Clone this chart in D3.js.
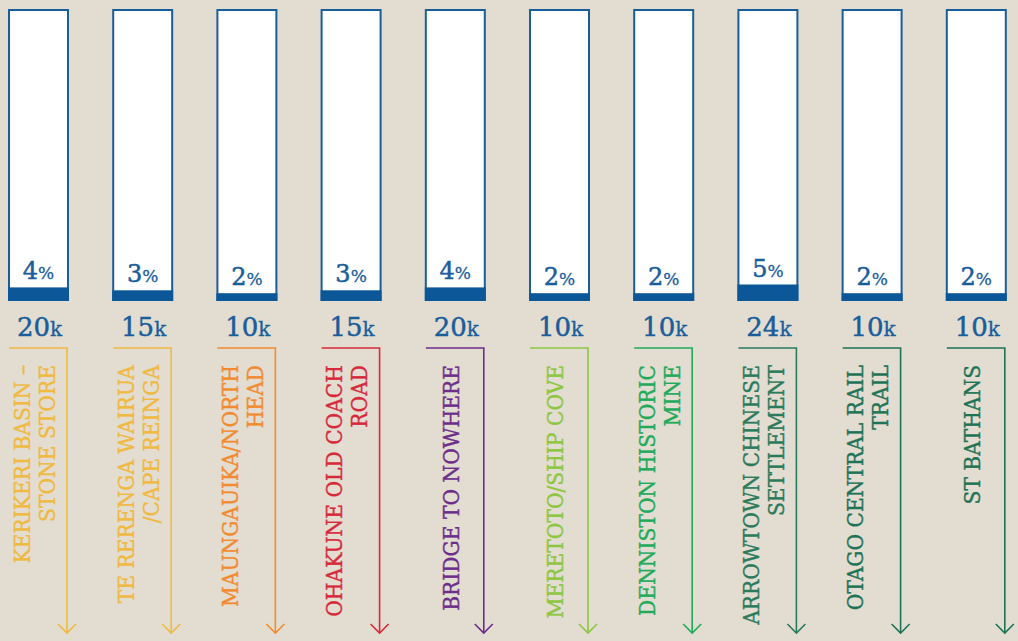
<!DOCTYPE html>
<html><head><meta charset="utf-8">
<script src="https://cdn.jsdelivr.net/npm/d3@7"></script>
<style>
html,body{margin:0;padding:0;background:#e3ddd1;}
svg{display:block;}
.lab{font-family:"DejaVu Serif Condensed","DejaVu Serif",serif;font-stretch:condensed;}
.num{font-family:"DejaVu Serif",serif;}
</style></head>
<body>
<svg id="chart" width="1018" height="641"></svg>
<script>
const categories = ["KERIKERI BASIN –|STONE STORE","TE RERENGA WAIRUA|/CAPE REINGA","MAUNGAUIKA/NORTH|HEAD","OHAKUNE OLD COACH|ROAD","BRIDGE TO NOWHERE","MERETOTO/SHIP COVE","DENNISTON HISTORIC|MINE","ARROWTOWN CHINESE|SETTLEMENT","OTAGO CENTRAL RAIL|TRAIL","ST BATHANS"];
const percents = [4,3,2,3,4,2,2,5,2,2];
const visitors = [20,15,10,15,20,10,10,24,10,10];
const labelColors = ["#f0b940","#f0b940","#f28b30","#d6293b","#6c2d8b","#8dc641","#22aa5b","#2a7a5c","#1e7356","#1e7356"];

const blue = "#195d9b";
const svg = d3.select("#chart");
const x = d3.scaleBand().domain(categories).range([9, 1005.8]).paddingInner(0.434).paddingOuter(0);
const y = d3.scaleLinear().domain([0,100]).range([300,10]);
const bw = x.bandwidth();

const g = svg.selectAll("g.col").data(categories).join("g").attr("class","col")
  .attr("transform", d => `translate(${x(d)},0)`);

// outer box
g.append("rect").attr("x",0).attr("y",y(100)).attr("width",bw).attr("height",y(0)-y(100))
  .attr("fill","#fff").attr("stroke",blue).attr("stroke-width",2);
// fill
g.append("rect").attr("x",0).attr("y",(d,i)=>y(percents[i])).attr("width",bw)
  .attr("height",(d,i)=>y(0)-y(percents[i])).attr("fill","#0b5797").attr("stroke","#0b5797").attr("stroke-width",2);

// percent labels
const pt = g.append("text").attr("class","num").attr("x",bw/2).attr("y",(d,i)=>y(percents[i])-9)
  .attr("text-anchor","middle").attr("fill",blue).attr("stroke",blue).attr("stroke-width",0.5);
pt.append("tspan").attr("font-size",24).text((d,i)=>percents[i]);
pt.append("tspan").attr("font-size",17).attr("stroke-width",0.3).text("%");

// visitor labels
const vt = g.append("text").attr("class","num").attr("x",bw/2+1).attr("y",336)
  .attr("text-anchor","middle").attr("fill",blue).attr("stroke",blue).attr("stroke-width",0.5);
vt.append("tspan").attr("font-size",26).text((d,i)=>visitors[i]);
vt.append("tspan").attr("font-size",20).attr("stroke-width",0.3).text("k");

// arrows
g.append("path").attr("fill","none").attr("stroke",(d,i)=>labelColors[i]).attr("stroke-width",1.6)
  .attr("d",`M0,348H${bw-1}V633`);
g.append("path").attr("fill","none").attr("stroke",(d,i)=>labelColors[i]).attr("stroke-width",1.6)
  .attr("d",`M${bw-10},624L${bw-1},633L${bw+8},624`);

// category labels (rotated)
g.each(function(d,i){
  const lines = d.split("|");
  const cx = 25;
  const lh = 25;
  const sel = d3.select(this);
  lines.forEach((ln,j)=>{
    const base = cx + 8 + (j - (lines.length-1)/2)*lh;
    sel.append("text").attr("class","lab")
      .attr("transform",`translate(${base},365) rotate(-90)`)
      .attr("text-anchor","end").attr("font-size",22.5)
      .attr("fill",labelColors[i]).attr("stroke",labelColors[i]).attr("stroke-width",0.4).text(ln);
  });
});
</script>
</body></html>
